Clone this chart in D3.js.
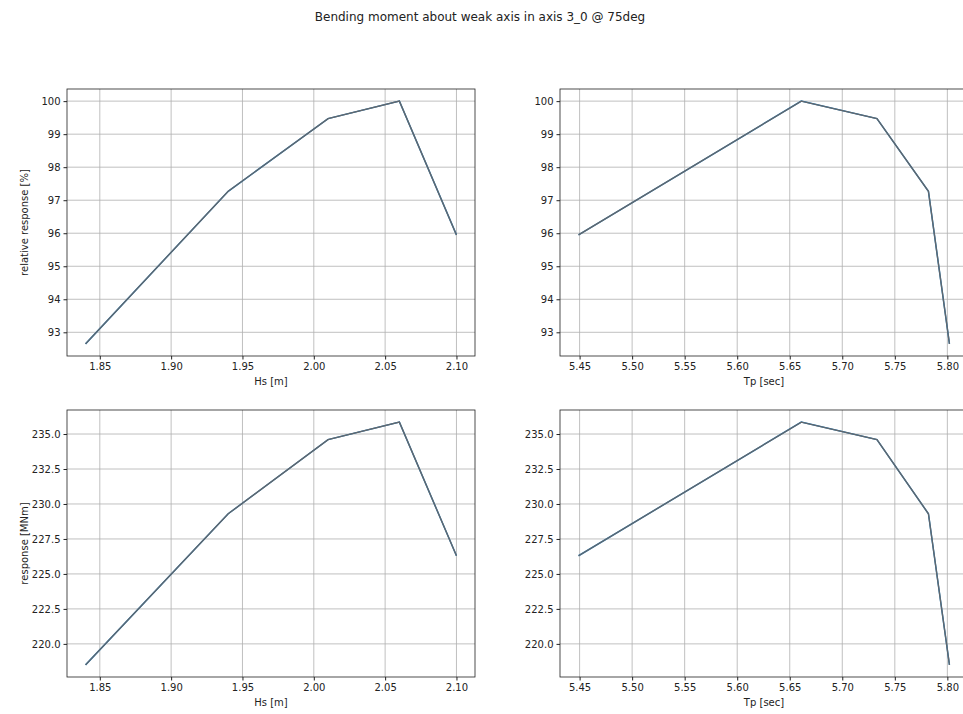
<!DOCTYPE html>
<html>
<head>
<meta charset="utf-8">
<script src="https://cdn.jsdelivr.net/npm/d3@7"></script>
<style>
  body { margin: 0; background: #fff; }
  text { font-family: "DejaVu Sans", sans-serif; fill: #222; }
  .tick text { font-size: 10px; }
  .tick line { stroke: #222; }
  .grid line { stroke: #b0b0b0; stroke-width: 0.8; }
  .frame { fill: none; stroke: #222; stroke-width: 0.8; }
</style>
</head>
<body>
<script>
var w = 963;
var h = 714;

// sea states (same order in every panel)
var hs = [1.84, 1.94, 2.01, 2.06, 2.10];
var tp = [5.802, 5.782, 5.733, 5.661, 5.449];
var relative = [92.65, 97.27, 99.47, 100.0, 95.95];
var response = [218.5, 229.3, 234.6, 235.85, 226.3];

var hsTicks = [1.85, 1.90, 1.95, 2.00, 2.05, 2.10];
var tpTicks = [5.45, 5.50, 5.55, 5.60, 5.65, 5.70, 5.75, 5.80];
var relTicks = [93, 94, 95, 96, 97, 98, 99, 100];
var respTicks = [220.0, 222.5, 225.0, 227.5, 230.0, 232.5, 235.0];

var svg = d3.select("body").append("svg")
  .attr("width", w)
  .attr("height", h);

svg.append("text")
  .attr("x", 480)
  .attr("y", 21)
  .attr("text-anchor", "middle")
  .style("font-size", "12px")
  .text("Bending moment about weak axis in axis 3_0 @ 75deg");

// matplotlib style 5% padding
function padded(vals) {
  var ext = d3.extent(vals);
  var m = (ext[1] - ext[0]) * 0.05;
  return [ext[0] - m, ext[1] + m];
}

/**
 * Draws one panel.
 */
function panel(x0, y0, pw, ph, xs, ys, xTicks, yTicks, xFmt, yFmt, xLabel, yLabel) {
  var g = svg.append("g").attr("transform", "translate(" + [x0, y0] + ")");

  var x = d3.scaleLinear().domain(padded(xs)).range([0, pw]);
  var y = d3.scaleLinear().domain(padded(ys)).range([ph, 0]);

  // grid
  var grid = g.append("g").attr("class", "grid");
  grid.selectAll(".gx").data(xTicks).enter().append("line")
    .attr("x1", d => x(d)).attr("x2", d => x(d))
    .attr("y1", 0).attr("y2", ph);
  grid.selectAll(".gy").data(yTicks).enter().append("line")
    .attr("x1", 0).attr("x2", pw)
    .attr("y1", d => y(d)).attr("y2", d => y(d));

  var pts = xs.map((d, i) => [d, ys[i]]).sort((a, b) => a[0] - b[0]);
  var line = d3.line().x(d => x(d[0])).y(d => y(d[1]));

  // overlapping series, the top one hides the rest
  g.append("path").datum(pts)
    .attr("d", line)
    .attr("fill", "none")
    .attr("stroke", "#1f77b4")
    .attr("stroke-width", 1.5);
  g.append("path").datum(pts)
    .attr("d", line)
    .attr("fill", "none")
    .attr("stroke", "#62676c")
    .attr("stroke-width", 1.3);

  g.append("rect").attr("class", "frame")
    .attr("width", pw).attr("height", ph);

  var xa = g.append("g")
    .attr("transform", "translate(0," + ph + ")")
    .call(d3.axisBottom(x).tickValues(xTicks).tickFormat(d3.format(xFmt)).tickSizeInner(3.5).tickSizeOuter(0).tickPadding(3));
  xa.select(".domain").remove();

  var ya = g.append("g")
    .call(d3.axisLeft(y).tickValues(yTicks).tickFormat(d3.format(yFmt)).tickSizeInner(3.5).tickSizeOuter(0).tickPadding(3));
  ya.select(".domain").remove();

  g.append("text")
    .attr("x", pw / 2)
    .attr("y", ph + 29)
    .attr("text-anchor", "middle")
    .style("font-size", "10px")
    .text(xLabel);

  if (yLabel) {
    g.append("text")
      .attr("transform", "translate(" + [-39, ph / 2] + ") rotate(-90)")
      .attr("text-anchor", "middle")
      .style("font-size", "10px")
      .text(yLabel);
  }
}

var pw = 408, ph = 267;
panel(67, 89, pw, ph, hs, relative, hsTicks, relTicks, ".2f", "d", "Hs [m]", "relative response [%]");
panel(560, 89, pw, ph, tp, relative, tpTicks, relTicks, ".2f", "d", "Tp [sec]", null);
panel(67, 410, pw, ph, hs, response, hsTicks, respTicks, ".2f", ".1f", "Hs [m]", "response [MNm]");
panel(560, 410, pw, ph, tp, response, tpTicks, respTicks, ".2f", ".1f", "Tp [sec]", null);
</script>
</body>
</html>
